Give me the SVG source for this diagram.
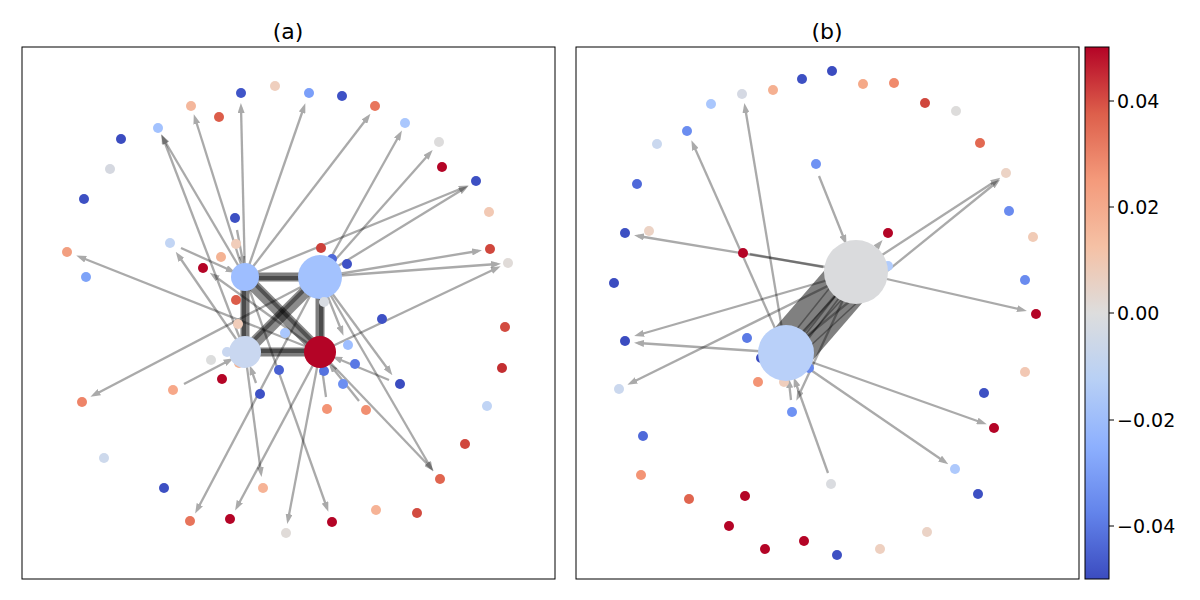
<svg xmlns="http://www.w3.org/2000/svg" width="1200" height="600" viewBox="0 0 1200 600">
<style>
.fr{fill:none;stroke:#000;stroke-width:1}
.e{stroke:#000;stroke-width:2.3;opacity:.33;marker-end:url(#ah);fill:none}
.en{stroke:#000;stroke-width:2.3;opacity:.33}
.t{stroke:#000;stroke-width:9;opacity:.5}
.ti2{stroke:#000;stroke-width:4;opacity:.4}
.tw{stroke:#000;stroke-width:12;opacity:.45}
.d{stroke:#000;stroke-width:1.5;opacity:.35}
text{font-family:"DejaVu Sans",sans-serif;fill:#000}
.ti{font-size:22px;text-anchor:middle}
.tk{font-size:19px}
</style>
<defs>
<marker id="ah" viewBox="0 0 10 7" refX="6" refY="3.5" markerWidth="10" markerHeight="7" markerUnits="userSpaceOnUse" orient="auto"><path d="M0,0 L10,3.5 L0,7 z" fill="#000"/></marker>
<linearGradient id="cw" x1="0" y1="0" x2="0" y2="1">
<stop offset="0" stop-color="#b40426"/><stop offset="0.125" stop-color="#dd5f4b"/><stop offset="0.25" stop-color="#f49a7b"/><stop offset="0.375" stop-color="#f5c1a5"/><stop offset="0.5" stop-color="#dddddd"/><stop offset="0.625" stop-color="#b8d0f5"/><stop offset="0.75" stop-color="#8db0fe"/><stop offset="0.875" stop-color="#6384eb"/><stop offset="1" stop-color="#3b4cc0"/>
</linearGradient>
</defs>
<rect width="1200" height="600" fill="#fff"/>
<text class="ti" x="288" y="39">(a)</text>
<text class="ti" x="827" y="39">(b)</text>
<rect class="fr" x="22" y="47" width="533" height="532"/>
<rect class="fr" x="576" y="47" width="503" height="532"/>

<g id="edges-a">
<line class="e" x1="245" y1="277" x2="241" y2="107"/>
<line class="e" x1="245" y1="277" x2="195" y2="118"/>
<line class="e" x1="245" y1="277" x2="163" y2="138"/>
<line class="e" x1="245" y1="277" x2="304" y2="107"/>
<line class="e" x1="245" y1="277" x2="368" y2="117"/>
<line class="e" x1="245" y1="277" x2="465" y2="187"/>
<line class="e" x1="245" y1="277" x2="327" y2="508"/>
<line class="e" x1="320" y1="277" x2="400" y2="134"/>
<line class="e" x1="320" y1="277" x2="430" y2="153"/>
<line class="e" x1="320" y1="277" x2="465" y2="188"/>
<line class="e" x1="320" y1="277" x2="478" y2="251"/>
<line class="e" x1="320" y1="277" x2="497" y2="264"/>
<line class="e" x1="320" y1="277" x2="431" y2="468"/>
<line class="e" x1="320" y1="277" x2="390" y2="372"/>
<line class="e" x1="320" y1="277" x2="342" y2="332"/>
<line class="e" x1="320" y1="277" x2="197" y2="510"/>
<line class="e" x1="320" y1="277" x2="94" y2="395"/>
<line class="e" x1="245" y1="352" x2="163" y2="138"/>
<line class="e" x1="245" y1="352" x2="178" y2="255"/>
<line class="e" x1="245" y1="352" x2="261" y2="473"/>
<line class="e" x1="320" y1="352" x2="80" y2="257"/>
<line class="e" x1="320" y1="352" x2="213" y2="275"/>
<line class="e" x1="320" y1="352" x2="497" y2="268"/>
<line class="e" x1="320" y1="352" x2="431" y2="468"/>
<line class="e" x1="320" y1="352" x2="237" y2="507"/>
<line class="e" x1="320" y1="352" x2="288" y2="520"/>
<line class="e" x1="181" y1="248" x2="232" y2="271"/>
<line class="e" x1="237" y1="230" x2="243" y2="262"/>
<line class="e" x1="184" y1="384" x2="230" y2="360"/>
<line class="e" x1="389" y1="380" x2="336" y2="358"/>
<line class="e" x1="326" y1="397" x2="322" y2="369"/>
<line class="e" x1="359" y1="401" x2="331" y2="366"/>
<line class="e" x1="256" y1="383" x2="251" y2="369"/>
<line class="t" x1="245" y1="277" x2="320" y2="277"/>
<line class="ti2" x1="245" y1="278" x2="320" y2="278"/>
<line class="t" x1="245" y1="277" x2="245" y2="352"/>
<line class="ti2" x1="244" y1="277" x2="244" y2="352"/>
<line class="t" x1="320" y1="277" x2="320" y2="352"/>
<line class="ti2" x1="321" y1="277" x2="321" y2="352"/>
<line class="t" x1="245" y1="352" x2="320" y2="352"/>
<line class="ti2" x1="245" y1="351" x2="320" y2="351"/>
<line class="tw" x1="245" y1="277" x2="320" y2="352"/>
<line class="ti2" x1="247" y1="276" x2="322" y2="351"/>
<line class="tw" x1="320" y1="277" x2="245" y2="352"/>
<line class="ti2" x1="318" y1="276" x2="243" y2="351"/>
</g>

<g id="nodes-a">
<g id="a01"><circle cx="275" cy="86" r="5" fill="#efcfbe"/></g>
<g id="a02"><circle cx="309" cy="93" r="5" fill="#7b9ff9"/></g>
<g id="a03"><circle cx="342" cy="96" r="5" fill="#3e51c5"/></g>
<g id="a04"><circle cx="375" cy="106" r="5" fill="#e8765c"/></g>
<g id="a05"><circle cx="405" cy="123" r="5" fill="#aac7fd"/></g>
<g id="a06"><circle cx="439" cy="142" r="5" fill="#dddcdc"/></g>
<g id="a07"><circle cx="442" cy="167" r="5" fill="#b40426"/></g>
<g id="a08"><circle cx="476" cy="181" r="5" fill="#3d50c3"/></g>
<g id="a09"><circle cx="489" cy="212" r="5" fill="#f2c9b4"/></g>
<g id="a10"><circle cx="490" cy="249" r="5" fill="#d0473d"/></g>
<g id="a11"><circle cx="508" cy="263" r="5" fill="#e0dbd8"/></g>
<g id="a12"><circle cx="505" cy="327" r="5" fill="#d24b40"/></g>
<g id="a13"><circle cx="502" cy="368" r="5" fill="#c32e31"/></g>
<g id="a14"><circle cx="487" cy="406" r="5" fill="#c0d4f5"/></g>
<g id="a15"><circle cx="465" cy="444" r="5" fill="#d0473d"/></g>
<g id="a16"><circle cx="440" cy="479" r="5" fill="#e0654f"/></g>
<g id="a17"><circle cx="417" cy="513" r="5" fill="#d24b40"/></g>
<g id="a18"><circle cx="376" cy="510" r="5" fill="#f6b396"/></g>
<g id="a19"><circle cx="332" cy="522" r="5" fill="#b40426"/></g>
<g id="a20"><circle cx="286" cy="533" r="5" fill="#e0dbd8"/></g>
<g id="a21"><circle cx="230" cy="519" r="5" fill="#b40426"/></g>
<g id="a22"><circle cx="190" cy="521" r="5" fill="#e7745b"/></g>
<g id="a23"><circle cx="164" cy="488" r="5" fill="#3d50c3"/></g>
<g id="a24"><circle cx="104" cy="458" r="5" fill="#cdd9ec"/></g>
<g id="a25"><circle cx="82" cy="402" r="5" fill="#ee8468"/></g>
<g id="a26"><circle cx="86" cy="277" r="5" fill="#7ea3f8"/></g>
<g id="a27"><circle cx="67" cy="252" r="5" fill="#f29f80"/></g>
<g id="a28"><circle cx="84" cy="199" r="5" fill="#3d50c3"/></g>
<g id="a29"><circle cx="110" cy="169" r="5" fill="#d5d8e0"/></g>
<g id="a30"><circle cx="121" cy="139" r="5" fill="#3b4cc0"/></g>
<g id="a31"><circle cx="158" cy="128" r="5" fill="#a3c2fe"/></g>
<g id="a32"><circle cx="191" cy="106" r="5" fill="#f4b79c"/></g>
<g id="a33"><circle cx="219" cy="117" r="5" fill="#dc5d4a"/></g>
<g id="a34"><circle cx="241" cy="93" r="5" fill="#4055c8"/></g>
<g id="a35"><circle cx="263" cy="488" r="5" fill="#f6b396"/></g>
<g id="a36"><circle cx="235" cy="218" r="5" fill="#3d50c3"/></g>
<g id="a37"><circle cx="236" cy="244" r="5" fill="#f1cdba"/></g>
<g id="a38"><circle cx="170" cy="243" r="5" fill="#c2d5f4"/></g>
<g id="a39"><circle cx="221" cy="257" r="5" fill="#f4b394"/></g>
<g id="a40"><circle cx="203" cy="268" r="5" fill="#b40426"/></g>
<g id="a41"><circle cx="236" cy="300" r="5" fill="#dc5d4a"/></g>
<g id="a42"><circle cx="238" cy="324" r="5" fill="#f1cdba"/></g>
<g id="a43"><circle cx="285" cy="333" r="5" fill="#aac7fd"/></g>
<g id="a44"><circle cx="321" cy="248" r="5" fill="#cc403a"/></g>
<g id="a45"><circle cx="332" cy="259" r="5" fill="#4f69d9"/></g>
<g id="a46"><circle cx="347" cy="264" r="5" fill="#3e51c5"/></g>
<g id="a47"><circle cx="382" cy="319" r="5" fill="#3e51c5"/></g>
<g id="a48"><circle cx="348" cy="345" r="5" fill="#9ebeff"/></g>
<g id="a49"><circle cx="355" cy="364" r="5" fill="#5a78e4"/></g>
<g id="a50"><circle cx="324" cy="371" r="5" fill="#5572df"/></g>
<g id="a51"><circle cx="343" cy="384" r="5" fill="#6c8ff1"/></g>
<g id="a52"><circle cx="400" cy="384" r="5" fill="#3b4cc0"/></g>
<g id="a53"><circle cx="327" cy="409" r="5" fill="#f39475"/></g>
<g id="a54"><circle cx="366" cy="410" r="5" fill="#f18f71"/></g>
<g id="a55"><circle cx="279" cy="370" r="5" fill="#4961d2"/></g>
<g id="a56"><circle cx="260" cy="394" r="5" fill="#3e51c5"/></g>
<g id="a57"><circle cx="222" cy="379" r="5" fill="#b40426"/></g>
<g id="a58"><circle cx="211" cy="360" r="5" fill="#dcdddd"/></g>
<g id="a59"><circle cx="173" cy="390" r="5" fill="#f7a889"/></g>
<g id="a60"><circle cx="227" cy="352" r="5" fill="#c9d7f0"/></g>
<g id="a61"><circle cx="239" cy="363" r="5" fill="#f4b394"/></g>
<g id="A1"><circle cx="245" cy="277" r="14" fill="#9ebeff"/></g>
<g id="A2"><circle cx="320" cy="277" r="22" fill="#a3c2fe"/></g>
<g id="A3"><circle cx="245" cy="352" r="16" fill="#c9d7f0"/></g>
<g id="A4"><circle cx="320" cy="352" r="16" fill="#b40426"/></g>
<g id="a62"><circle cx="324" cy="302" r="5" fill="#d8dce2"/></g>
</g>

<g id="edges-b">
<line x1="786" y1="353" x2="856" y2="272" stroke="#808080" stroke-width="50"/>
<line class="d" x1="790" y1="345" x2="850" y2="280"/>
<line class="d" x1="800" y1="350" x2="845" y2="290"/>
<line class="d" x1="805" y1="340" x2="855" y2="285"/>
<line class="d" x1="795" y1="360" x2="860" y2="300"/>
<line class="d" x1="780" y1="350" x2="840" y2="275"/>
<line class="d" x1="805" y1="335" x2="838" y2="293" stroke-width="2.5"/>
<line class="e" x1="856" y1="272" x2="638" y2="236"/>
<line class="en" x1="750" y1="254" x2="823" y2="267"/>
<line class="e" x1="856" y1="272" x2="997" y2="180"/>
<line class="e" x1="786" y1="353" x2="997" y2="182"/>
<line class="e" x1="856" y1="272" x2="1023" y2="310"/>
<line class="e" x1="786" y1="353" x2="880" y2="243"/>
<line class="e" x1="819" y1="176" x2="845" y2="241"/>
<line class="e" x1="786" y1="353" x2="745" y2="107"/>
<line class="e" x1="786" y1="353" x2="693" y2="144"/>
<line class="e" x1="856" y1="272" x2="638" y2="335"/>
<line class="e" x1="786" y1="353" x2="638" y2="343"/>
<line class="e" x1="856" y1="272" x2="631" y2="383"/>
<line class="e" x1="786" y1="353" x2="983" y2="423"/>
<line class="e" x1="786" y1="353" x2="945" y2="462"/>
<line class="e" x1="856" y1="272" x2="798" y2="397"/>
<line class="e" x1="791" y1="400" x2="789" y2="382"/>
<line class="e" x1="828" y1="473" x2="795" y2="381"/>
</g>

<g id="nodes-b">
<g id="b01"><circle cx="832" cy="71" r="5" fill="#3b4cc0"/></g>
<g id="b02"><circle cx="802" cy="79" r="5" fill="#3d50c3"/></g>
<g id="b03"><circle cx="773" cy="90" r="5" fill="#f5b091"/></g>
<g id="b04"><circle cx="742" cy="94" r="5" fill="#d5d9e3"/></g>
<g id="b05"><circle cx="711" cy="104" r="5" fill="#aac7fd"/></g>
<g id="b06"><circle cx="687" cy="131" r="5" fill="#6b8df0"/></g>
<g id="b07"><circle cx="657" cy="144" r="5" fill="#cad8ef"/></g>
<g id="b08"><circle cx="637" cy="184" r="5" fill="#4f69d9"/></g>
<g id="b09"><circle cx="625" cy="233" r="5" fill="#3d50c3"/></g>
<g id="b10"><circle cx="649" cy="231" r="5" fill="#ecd3c5"/></g>
<g id="b11"><circle cx="614" cy="283" r="5" fill="#3b4cc0"/></g>
<g id="b12"><circle cx="816" cy="164" r="5" fill="#6f92f3"/></g>
<g id="b13"><circle cx="743" cy="253" r="5" fill="#b40426"/></g>
<g id="b14"><circle cx="863" cy="84" r="5" fill="#f5a988"/></g>
<g id="b15"><circle cx="894" cy="83" r="5" fill="#f08a6c"/></g>
<g id="b16"><circle cx="925" cy="103" r="5" fill="#d0473d"/></g>
<g id="b17"><circle cx="956" cy="111" r="5" fill="#dddcdb"/></g>
<g id="b18"><circle cx="980" cy="143" r="5" fill="#e26952"/></g>
<g id="b19"><circle cx="1006" cy="173" r="5" fill="#ecd3c5"/></g>
<g id="b20"><circle cx="1009" cy="211" r="5" fill="#6a8bef"/></g>
<g id="b21"><circle cx="1033" cy="237" r="5" fill="#f1cbb6"/></g>
<g id="b22"><circle cx="1025" cy="280" r="5" fill="#6a8bef"/></g>
<g id="b23"><circle cx="1036" cy="314" r="5" fill="#b40426"/></g>
<g id="b24"><circle cx="888" cy="233" r="5" fill="#b40426"/></g>
<g id="b25"><circle cx="888" cy="266" r="5" fill="#b2ccfb"/></g>
<g id="b26"><circle cx="625" cy="341" r="5" fill="#3b4cc0"/></g>
<g id="b27"><circle cx="619" cy="389" r="5" fill="#cbd8ee"/></g>
<g id="b28"><circle cx="643" cy="436" r="5" fill="#4f69d9"/></g>
<g id="b29"><circle cx="641" cy="475" r="5" fill="#f39475"/></g>
<g id="b30"><circle cx="689" cy="499" r="5" fill="#e0654f"/></g>
<g id="b31"><circle cx="745" cy="496" r="5" fill="#b40426"/></g>
<g id="b32"><circle cx="729" cy="526" r="5" fill="#b40426"/></g>
<g id="b33"><circle cx="765" cy="549" r="5" fill="#b40426"/></g>
<g id="b34"><circle cx="804" cy="541" r="5" fill="#b40426"/></g>
<g id="b35"><circle cx="837" cy="555" r="5" fill="#3d50c3"/></g>
<g id="b36"><circle cx="747" cy="338" r="5" fill="#5b7ae5"/></g>
<g id="b37"><circle cx="758" cy="382" r="5" fill="#f39475"/></g>
<g id="b38"><circle cx="784" cy="382" r="5" fill="#efcebd"/></g>
<g id="b39"><circle cx="792" cy="412" r="5" fill="#6f92f3"/></g>
<g id="b40"><circle cx="761" cy="358" r="5" fill="#3b4cc0"/></g>
<g id="b41"><circle cx="809" cy="368" r="5" fill="#6687ed"/></g>
<g id="b42"><circle cx="831" cy="484" r="5" fill="#dadce0"/></g>
<g id="b43"><circle cx="1025" cy="372" r="5" fill="#f2c8b4"/></g>
<g id="b44"><circle cx="984" cy="393" r="5" fill="#3d50c3"/></g>
<g id="b45"><circle cx="994" cy="428" r="5" fill="#b40426"/></g>
<g id="b46"><circle cx="955" cy="469" r="5" fill="#aec9fc"/></g>
<g id="b47"><circle cx="978" cy="494" r="5" fill="#3d50c3"/></g>
<g id="b48"><circle cx="927" cy="532" r="5" fill="#ebd3c6"/></g>
<g id="b49"><circle cx="880" cy="549" r="5" fill="#eed0c0"/></g>
<g id="B1"><circle cx="856" cy="272" r="32" fill="#dadbdd"/></g>
<g id="B2"><circle cx="786" cy="353" r="28" fill="#b9d0f9"/></g>
</g>

<g id="colorbar">
<rect x="1085" y="47" width="24" height="532" fill="url(#cw)" stroke="#000" stroke-width="1"/>
<g stroke="#000" stroke-width="1">
<line x1="1109" y1="101" x2="1114" y2="101"/>
<line x1="1109" y1="207" x2="1114" y2="207"/>
<line x1="1109" y1="313" x2="1114" y2="313"/>
<line x1="1109" y1="420" x2="1114" y2="420"/>
<line x1="1109" y1="526" x2="1114" y2="526"/>
</g>
<text class="tk" x="1117" y="108">0.04</text>
<text class="tk" x="1117" y="214">0.02</text>
<text class="tk" x="1117" y="320">0.00</text>
<text class="tk" x="1117" y="427">−0.02</text>
<text class="tk" x="1117" y="533">−0.04</text>
</g>
</svg>
